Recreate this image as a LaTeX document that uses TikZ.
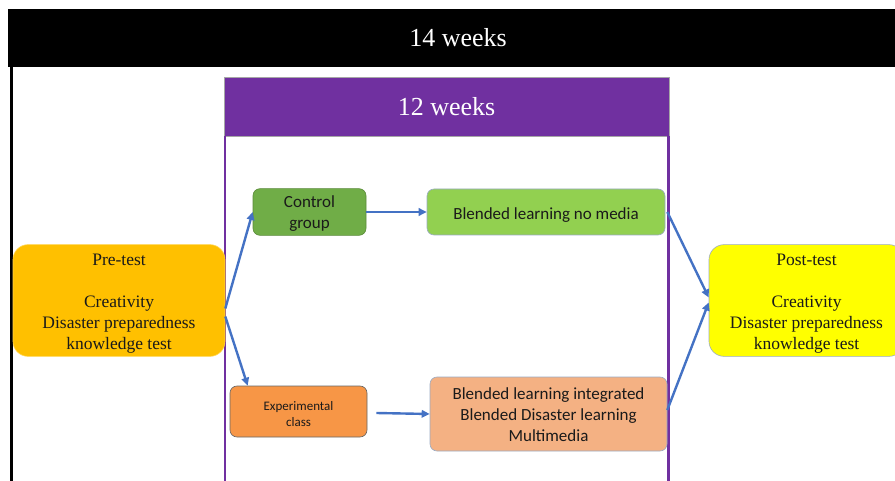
\documentclass[tikz,border=0pt]{standalone}
\usepackage{fontspec}
\setmainfont{Liberation Serif}
\newfontfamily\calibri{Carlito}
\usetikzlibrary{arrows.meta, calc}
\definecolor{weekPurple}{HTML}{7030A0}
\definecolor{preGold}{HTML}{FFC000}
\definecolor{postYellow}{HTML}{FFFF00}
\definecolor{ctrlGreen}{HTML}{70AD47}
\definecolor{mediaGreen}{HTML}{92D050}
\definecolor{expOrange}{HTML}{F79646}
\definecolor{integPeach}{HTML}{F4B183}
\definecolor{arrowBlue}{HTML}{4472C4}
\definecolor{edgeGray}{HTML}{9AABC4}
\definecolor{textDark}{HTML}{1A1A1A}

\begin{document}
\begin{tikzpicture}[x=1pt, y=-1pt,
    header/.style={rectangle, minimum height=58pt, text=white,
      font=\fontsize{26}{30}\selectfont},
    testbox/.style={rectangle, rounded corners=15pt,
      minimum width=212pt, minimum height=111pt,
      align=center, text=textDark, draw=edgeGray, line width=0.6pt,
      text height=101pt, text depth=4pt,
      font=\fontsize{17.5}{21}\selectfont},
    groupbox/.style={rectangle, rounded corners=7pt,
      minimum height=46pt, align=center, text=textDark,
      draw=edgeGray, line width=0.6pt,
      font=\calibri\fontsize{17}{21}\selectfont},
    flow/.style={draw=arrowBlue, line width=2.4pt,
      -{Triangle[length=8pt, width=7.5pt]}},
    side/.style={line width=2.5pt}
  ]
  \useasboundingbox (0,0) rectangle (895,481);

  % 14 weeks frame
  \node[header, fill=black, minimum width=900pt] (weeks14) at (458,38) {14 weeks};
  \draw[side, line width=2.6pt] ($(weeks14.south west)+(3.5,0)$) -- ++(0,420);

  % 12 weeks frame
  \node[header, fill=weekPurple, draw=gray!70, line width=0.6pt,
    minimum width=445pt, minimum height=59pt] (weeks12) at (446.5,106.5) {12 weeks};
  \draw[side, weekPurple] ($(weeks12.south west)+(1.5,0)$) -- ++(0,350);
  \draw[side, weekPurple] ($(weeks12.south east)+(-1,0)$) -- ++(0,350);

  % tests
  \node[testbox, fill=preGold, draw=preGold!70!white] (pre) at (119,300.5)
    {Pre-test\\[21pt]Creativity\\Disaster preparedness\\knowledge test};
  \node[testbox, fill=postYellow, minimum width=195pt] (post) at (806.5,300.5)
    {Post-test\\[21pt]Creativity\\Disaster preparedness\\knowledge test};

  % groups
  \node[groupbox, fill=ctrlGreen, draw=ctrlGreen!80!black, minimum width=113pt,
    text height=37pt, text depth=3pt] (ctrl)
    at (309.5,212) {Control\\group};
  \node[groupbox, fill=expOrange, draw=gray!80!black, minimum width=137pt,
    minimum height=51pt, text height=32pt, text depth=2pt,
    font=\calibri\fontsize{13}{16}\selectfont] (exp)
    at (298.5,411.5) {Experimental\\class};

  % treatments
  \node[groupbox, fill=mediaGreen, minimum width=238pt,
    text height=15pt, text depth=0pt] (media)
    at (546,212) {Blended learning no media};
  \node[groupbox, fill=integPeach, minimum width=237pt, minimum height=74pt,
    text height=56pt, text depth=2pt] (integ)
    at (548.5,414) {Blended learning integrated\\Blended Disaster learning\\Multimedia};

  % arrows
  \draw[flow] ($(pre.east)+(0,8)$) -- (ctrl.west);
  \draw[flow] ($(pre.east)+(0,16)$) -- ($(exp.north west)+(18,0)$);
  \draw[flow] (ctrl.east) -- (media.west);
  \draw[flow] ($(exp.east)+(9,1.5)$) -- (integ.west);
  \draw[flow] ($(media.east)+(2,0)$) -- ($(post.west)+(0,-3)$);
  \draw[flow] ($(integ.east)+(0,-4)$) -- ($(post.west)+(0,2)$);
\end{tikzpicture}
\end{document}
